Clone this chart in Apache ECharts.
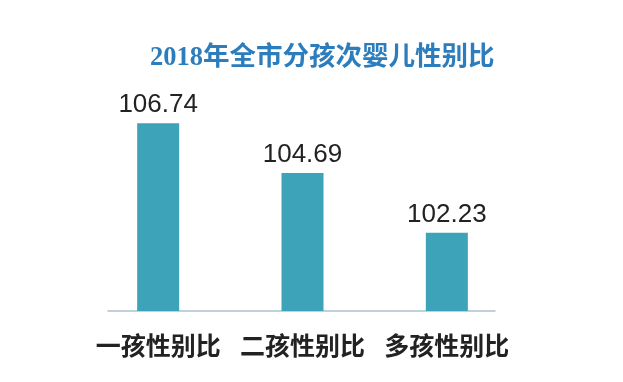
<!DOCTYPE html>
<html>
<head>
<meta charset="utf-8">
<script src="https://cdn.jsdelivr.net/npm/echarts@6/dist/echarts.min.js"></script>
<style>html,body{margin:0;padding:0;background:#fff;}#c{width:623px;height:382px;}</style>
</head>
<body>
<div id="c"></div>
<script>
const titleText = '2018年全市分孩次婴儿性别比';
const categories = ['一孩性别比', '二孩性别比', '多孩性别比'];
const values = [106.74, 104.69, 102.23];

const chart = echarts.init(document.getElementById('c'), null, {renderer: 'canvas'});
chart.setOption({
  backgroundColor: '#ffffff',
  animation: false,
  title: {
    text: titleText,
    left: 145,
    top: 40,
    textStyle: {
      fontFamily: '"Liberation Serif", "Noto Sans CJK SC", serif',
      fontWeight: 'bold',
      fontSize: 26.5,
      color: '#2b7dbd'
    }
  },
  grid: [
    {left: 86, right: 104, top: 117, bottom: 71},
    {left: 108, right: 128, top: 117, bottom: 71}
  ],
  xAxis: [
    {
      type: 'category',
      data: categories,
      gridIndex: 0,
      axisLine: {show: false},
      axisTick: {show: false},
      axisLabel: {
        interval: 0,
        margin: 22,
        fontFamily: '"Noto Sans CJK SC", sans-serif',
        fontWeight: 'bold',
        fontSize: 25,
        color: '#222222'
      }
    },
    {
      type: 'value',
      gridIndex: 1,
      min: 0, max: 1,
      axisLine: {show: true, lineStyle: {color: '#a9c4cc', width: 1.5}},
      axisTick: {show: false},
      axisLabel: {show: false},
      splitLine: {show: false}
    }
  ],
  yAxis: [
    {type: 'value', gridIndex: 0, min: 99, max: 107, show: false, splitLine: {show: false}},
    {type: 'value', gridIndex: 1, min: 0, max: 1, show: false, splitLine: {show: false}}
  ],
  series: [{
    type: 'bar',
    xAxisIndex: 0,
    yAxisIndex: 0,
    data: values,
    barWidth: 42,
    itemStyle: {color: '#3ca3b8'},
    label: {
      show: true,
      position: 'top',
      distance: 5,
      fontFamily: '"Liberation Sans", Arial, sans-serif',
      fontSize: 26,
      color: '#222222',
      formatter: p => p.value.toFixed(2)
    }
  }]
});
</script>
</body>
</html>
